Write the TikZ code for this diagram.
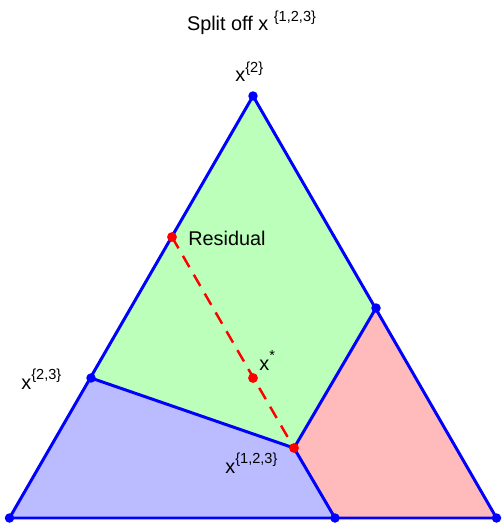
\documentclass[tikz,border=0pt]{standalone}
\usepackage{fontspec}
\setmainfont{Liberation Sans}
\usetikzlibrary{calc}
\definecolor{edgeblue}{RGB}{0,0,255}
\definecolor{regGreen}{RGB}{187,255,187}
\definecolor{regBlue}{RGB}{187,187,255}
\definecolor{regRed}{RGB}{255,187,187}
\newcommand\sups[1]{\raisebox{0.5em}{\fontsize{8.3}{9}\selectfont #1}}
\tikzset{
  edge/.style    = {edgeblue, line width=1.7pt, line join=round},
  bdot/.style    = {circle, fill=edgeblue, inner sep=0pt, minimum size=5.4pt},
  rdot/.style    = {circle, fill=red, inner sep=0pt, minimum size=5.6pt},
  lbl/.style     = {inner sep=0pt, anchor=base west,
                    font=\fontsize{11.3}{13}\selectfont},
  resline/.style = {red, line width=1.4pt, dash pattern=on 7.4pt off 5pt}
}

\begin{document}
\begin{tikzpicture}[x=0.02cm, y=-0.02cm]
    \useasboundingbox (0,0) rectangle (501,523);
    % Simplex corners and split points
    \coordinate (vtop)    at (253, 96);
    \coordinate (vleft)   at (9.5, 518);
    \coordinate (vright)  at (496.5, 518);
    \coordinate (m23)     at (91, 378);
    \coordinate (mright)  at (376, 308);
    \coordinate (mbottom) at (335, 518);
    \coordinate (c123)    at (294, 448);
    \coordinate (resid)   at (172, 237);
    \coordinate (xstar)   at (253, 378);

    % Regions
    \fill[regGreen] (vtop) -- (m23) -- (c123) -- (mright) -- cycle;
    \fill[regBlue]  (vleft) -- (m23) -- (c123) -- (mbottom) -- cycle;
    \fill[regRed]   (c123) -- (mright) -- (vright) -- (mbottom) -- cycle;

    % Edges
    \draw[edge] (vleft) -- (vtop) -- (vright) -- cycle;
    \draw[edge] (m23) -- (c123);
    \draw[edge] (c123) -- (mright);
    \draw[edge] (c123) -- (mbottom);
    \draw[resline] (resid) -- (c123);

    % Points
    \foreach \p in {vtop, vleft, vright, m23, mright, mbottom}
        \node[bdot] (d-\p) at (\p) {};
    \foreach \p in {resid, xstar, c123}
        \node[rdot] (d-\p) at (\p) {};

    % Labels
    \node[lbl, anchor=base] (title) at (251.5, 31) {Split off x \sups{\{1,2,3\}}};
    \node[lbl] (l2)     at (235, 82)  {x\sups{\{2\}}};
    \node[lbl] (l23)    at (21, 389)  {x\sups{\{2,3\}}};
    \node[lbl] (l123)   at (225, 473) {x\sups{\{1,2,3\}}};
    \node[lbl] (lstar)  at (259, 370) {x\sups{*}};
    \node[lbl] (lresid) at (188, 245) {Residual};
\end{tikzpicture}
\end{document}
